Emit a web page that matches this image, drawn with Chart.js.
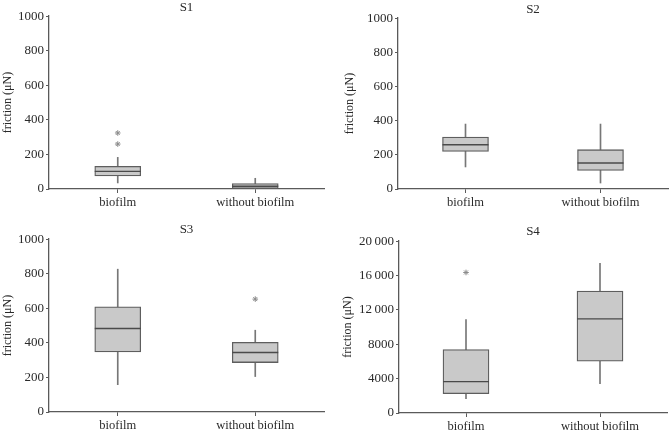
<!DOCTYPE html>
<html>
<head>
<meta charset="utf-8">
<script src="https://cdn.jsdelivr.net/npm/chart.js@4.4.1/dist/chart.umd.min.js"></script>
<style>
    body { margin: 0; background: #fff; }
    #wrap { position: relative; width: 671px; height: 431px; }
    .panel { position: absolute; }
</style>
</head>
<body>
<div id="wrap">
    <div class="panel" style="left:0;top:0;width:335px;height:215px"><canvas id="s1"></canvas></div>
    <div class="panel" style="left:335px;top:0;width:336px;height:215px"><canvas id="s2"></canvas></div>
    <div class="panel" style="left:0;top:215px;width:335px;height:216px"><canvas id="s3"></canvas></div>
    <div class="panel" style="left:335px;top:215px;width:336px;height:216px"><canvas id="s4"></canvas></div>
</div>
<script>
const categories = ['biofilm', 'without biofilm'];

// box plot values per panel: [biofilm, without biofilm]
const s1Low = [35, 0];
const s1Q1 = [75, 3];
const s1Median = [102, 16];
const s1Q3 = [131, 32];
const s1High = [183, 62];
const s1Outliers = [[324, 260], []];

const s2Low = [129, 35];
const s2Q1 = [220, 109];
const s2Median = [259, 152];
const s2Q3 = [304, 230];
const s2High = [380, 380];
const s2Outliers = [[], []];

const s3Low = [158, 205];
const s3Q1 = [347, 286];
const s3Median = [483, 344];
const s3Q3 = [608, 403];
const s3High = [826, 473];
const s3Outliers = [[], [653]];

const s4Low = [1670, 3420];
const s4Q1 = [2250, 6020];
const s4Median = [3650, 10950];
const s4Q3 = [7380, 14180];
const s4High = [10870, 17400];
const s4Outliers = [[16350], []];

const s1Ticks = [0, 200, 400, 600, 800, 1000];
const s4Ticks = [0, 4000, 8000, 12000, 16000, 20000];

const serif = "'Liberation Serif', 'DejaVu Serif', serif";
const axisColor = '#5a5a5a';
const textColor = '#2a2a2a';

function makePanel(id, title, low, q1, median, q3, high, outliers, tickValues, layout) {
    const ctx = document.getElementById(id).getContext('2d');

    const outlierPoints = [];
    outliers.forEach((list, i) => {
        for (const v of list) outlierPoints.push({ x: categories[i], y: v });
    });

    new Chart(ctx, {
        type: 'bar',
        data: {
            labels: categories,
            datasets: [
                {
                    // whiskers
                    data: low.map((v, i) => [v, high[i]]),
                    backgroundColor: '#777',
                    borderWidth: 0,
                    barThickness: 1,
                    grouped: false,
                    order: 3
                },
                {
                    // boxes
                    data: q1.map((v, i) => [v, q3[i]]),
                    backgroundColor: '#c9c9c9',
                    borderColor: '#5e5e5e',
                    borderWidth: 1.3,
                    borderSkipped: false,
                    barThickness: 46,
                    grouped: false,
                    order: 2
                },
                {
                    // medians
                    type: 'line',
                    data: median,
                    showLine: false,
                    pointStyle: 'line',
                    pointRadius: 23,
                    pointBorderColor: '#4a4a4a',
                    pointBorderWidth: 1.3,
                    order: 1
                },
                {
                    // outliers
                    type: 'line',
                    data: outlierPoints,
                    showLine: false,
                    pointStyle: 'star',
                    pointRadius: 2.8,
                    pointBorderColor: '#8a8a8a',
                    pointBorderWidth: 1,
                    order: 0
                }
            ]
        },
        options: {
            responsive: true,
            maintainAspectRatio: false,
            animation: false,
            layout: {
                autoPadding: false,
                padding: { top: layout.top, right: layout.right, left: 0, bottom: 0 }
            },
            plugins: {
                legend: { display: false },
                tooltip: { enabled: false },
                title: {
                    display: true,
                    text: title,
                    color: textColor,
                    fullSize: false,
                    font: { family: serif, size: 13, weight: 'normal', lineHeight: 1.2 },
                    padding: { top: 0, bottom: layout.titleGap }
                }
            },
            scales: {
                x: {
                    offset: true,
                    grid: { offset: false, drawOnChartArea: false, drawTicks: true, tickLength: 4, color: axisColor },
                    border: { display: true, color: axisColor, width: 1.3 },
                    ticks: { color: textColor, padding: 2, font: { family: serif, size: 12.5 } },
                    afterFit: (scale) => { scale.height = layout.bottom; }
                },
                y: {
                    min: tickValues[0],
                    max: tickValues[tickValues.length - 1],
                    afterBuildTicks: (scale) => { scale.ticks = tickValues.map(v => ({ value: v })); },
                    grid: { drawOnChartArea: false, drawTicks: true, tickLength: 3, color: axisColor },
                    border: { display: true, color: axisColor, width: 1.3 },
                    ticks: {
                        color: textColor,
                        padding: 2,
                        font: { family: serif, size: 13 },
                        callback: (v) => v >= 10000 ? String(v).replace(/(\d+)(\d{3})$/, '$1\u2009$2') : v
                    },
                    title: {
                        display: true,
                        text: 'friction (\u03bcN)',
                        color: textColor,
                        padding: { top: layout.yTitlePad, bottom: 0 },
                        font: { family: serif, size: 12 }
                    },
                    afterFit: (scale) => { scale.width = layout.left; }
                }
            }
        }
    });
}

makePanel('s1', 'S1', s1Low, s1Q1, s1Median, s1Q3, s1High, s1Outliers, s1Ticks,
    { top: 0, titleGap: 0.5, left: 49, right: 11, bottom: 26, yTitlePad: 1 });
makePanel('s2', 'S2', s2Low, s2Q1, s2Median, s2Q3, s2High, s2Outliers, s1Ticks,
    { top: 2, titleGap: 0.5, left: 63, right: 3, bottom: 26, yTitlePad: 8 });
makePanel('s3', 'S3', s3Low, s3Q1, s3Median, s3Q3, s3High, s3Outliers, s1Ticks,
    { top: 7, titleGap: 1.5, left: 49, right: 11, bottom: 19, yTitlePad: 1 });
makePanel('s4', 'S4', s4Low, s4Q1, s4Median, s4Q3, s4High, s4Outliers, s4Ticks,
    { top: 9, titleGap: 1.5, left: 64, right: 4, bottom: 18, yTitlePad: 6 });
</script>
</body>
</html>
